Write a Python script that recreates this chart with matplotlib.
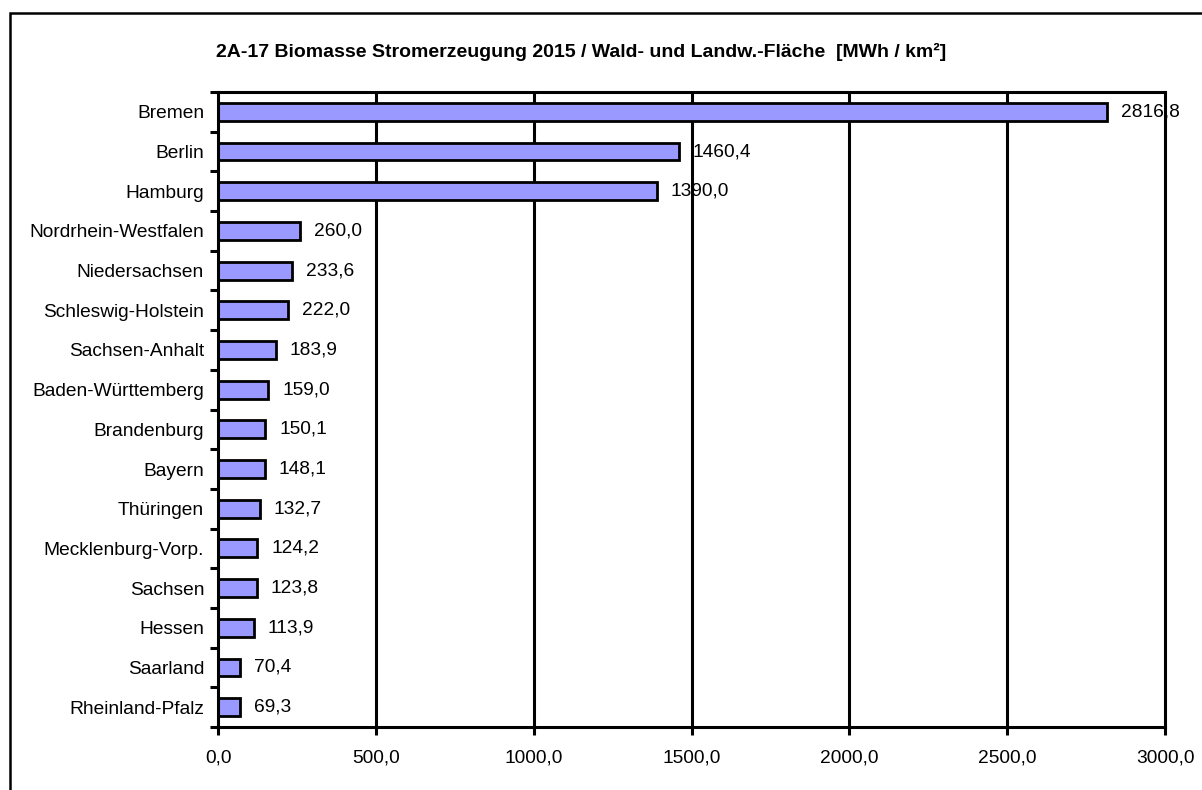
import matplotlib
matplotlib.use("Agg")
import matplotlib.pyplot as plt
from matplotlib.patches import Rectangle
from matplotlib.ticker import FuncFormatter, FixedLocator

plt.rcParams['font.family'] = ['Liberation Sans', 'DejaVu Sans']

# data (top to bottom)
laender = ["Bremen", "Berlin", "Hamburg", "Nordrhein-Westfalen", "Niedersachsen",
           "Schleswig-Holstein", "Sachsen-Anhalt", "Baden-Württemberg", "Brandenburg",
           "Bayern", "Thüringen", "Mecklenburg-Vorp.", "Sachsen", "Hessen",
           "Saarland", "Rheinland-Pfalz"]
werte = [2816.8, 1460.4, 1390.0, 260.0, 233.6, 222.0, 183.9, 159.0, 150.1,
         148.1, 132.7, 124.2, 123.8, 113.9, 70.4, 69.3]
x_ticks = [0, 500, 1000, 1500, 2000, 2500, 3000]
titel = "2A-17 Biomasse Stromerzeugung 2015 / Wald- und Landw.-Fläche  [MWh / km²]"


def de_fmt(v, pos=None):
    return f"{v:.1f}".replace(".", ",")


W, H = 1202, 790
fig = plt.figure(figsize=(W / 100, H / 100), dpi=100)

# outer chart frame
fig.patches.append(Rectangle((10 / W, -0.05), 1.1, 1 - 13 / H + 0.05,
                             transform=fig.transFigure, fill=False,
                             edgecolor="black", linewidth=1.8))

ax = fig.add_axes([218 / W, 1 - 727 / H, (1165 - 218) / W, (727 - 92) / H])

pos = list(range(len(laender)))
ax.barh(pos, werte, height=0.45, color="#9999ff", edgecolor="black",
        linewidth=2.0, zorder=5)

# grid lines drawn above value labels but below bars
for t in x_ticks[1:-1]:
    ax.axvline(t, color="black", linewidth=2.2, zorder=4)

for p, v in zip(pos, werte):
    ax.annotate(de_fmt(v), (v, p), xytext=(10, 0), textcoords="offset points",
                va="center", ha="left", fontsize=13.8, zorder=3)

ax.set_xlim(0, 3000)
ax.set_ylim(len(laender) - 0.5, -0.5)
ax.xaxis.set_major_locator(FixedLocator(x_ticks))
ax.xaxis.set_major_formatter(FuncFormatter(de_fmt))

ax.yaxis.set_major_locator(FixedLocator([i - 0.5 for i in range(len(laender) + 1)]))
ax.yaxis.set_major_formatter(FuncFormatter(lambda v, p: ""))
ax.set_yticks(pos, minor=True)
ax.set_yticklabels(laender, minor=True)
ax.tick_params(axis="y", which="minor", length=0, pad=10, labelsize=13.8)
ax.tick_params(axis="y", which="major", length=6, width=2.2, direction="out")
ax.tick_params(axis="x", which="major", length=6, width=2.2, direction="out",
               pad=10, labelsize=13.8)

for s in ax.spines.values():
    s.set_linewidth(2.2)
    s.set_zorder(6)

fig.text(581 / W, 1 - 52 / H, titel, ha="center", va="center",
         fontsize=14, fontweight="bold")

fig.savefig("out.png", dpi=100)
